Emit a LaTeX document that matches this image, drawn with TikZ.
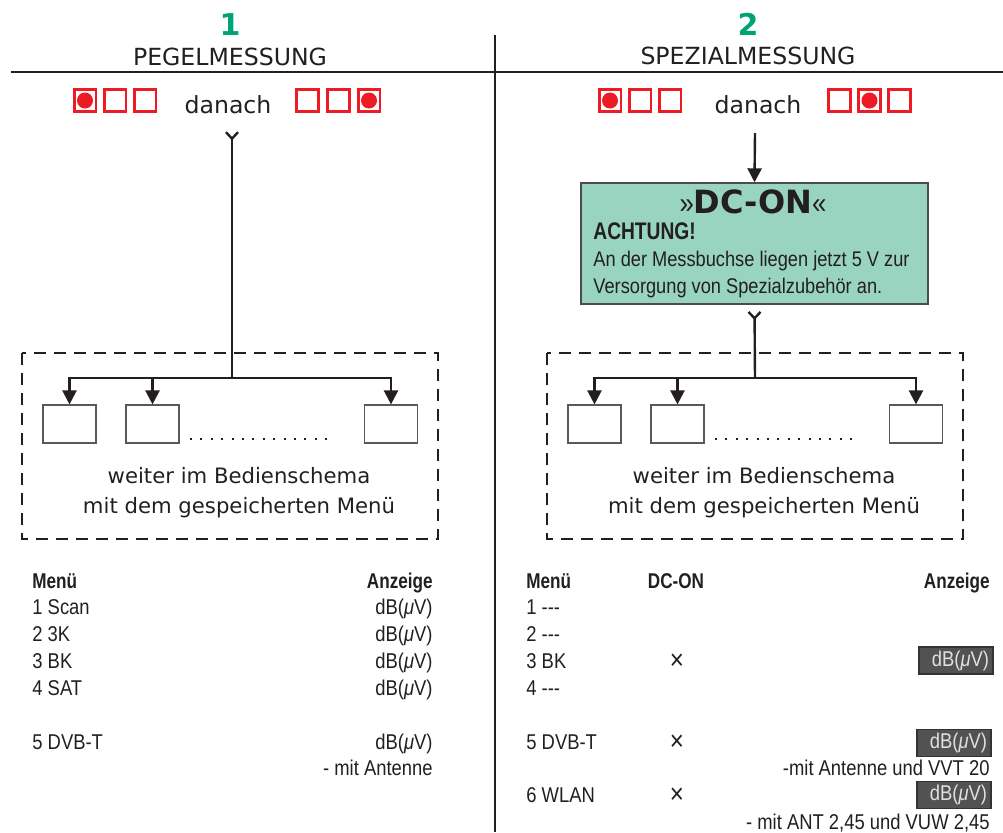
\documentclass[tikz,border=0pt]{standalone}
\usepackage{fontspec}
\setmainfont{DejaVu Sans}
\newfontfamily\condfont[FakeStretch=0.86,BoldFeatures={FakeStretch=0.8}]{Liberation Sans}
\usetikzlibrary{arrows.meta, positioning}
\definecolor{ledred}{RGB}{237,28,36}
\definecolor{numgreen}{RGB}{0,163,116}
\definecolor{dcteal}{RGB}{153,212,192}
\definecolor{inkgray}{RGB}{35,31,32}
\definecolor{dispgray}{RGB}{82,82,82}
\tikzset{
    sq/.style={draw=ledred, line width=1.3pt, minimum size=10.8pt, inner sep=0pt},
    leddot/.style={fill=ledred, circle, minimum size=8pt, inner sep=0pt},
    conn/.style={draw=inkgray, line width=1.2pt},
    arr/.style={conn, -{Triangle[length=7pt,width=7pt]}},
    tailconn/.style={conn, {Straight Barb[reversed,length=3.2pt,width=6pt]}-},
    menubox/.style={draw=black!65, line width=0.6pt, minimum width=26.5pt, minimum height=19pt, inner sep=0pt},
    dasharea/.style={draw=inkgray, line width=1.3pt, dash pattern=on 6pt off 4pt},
    titletext/.style={font=\fontsize{11.8}{14}\selectfont, text=inkgray, inner sep=0pt},
    numtext/.style={font=\bfseries\fontsize{15}{18}\selectfont, text=numgreen, inner sep=0pt},
    menucell/.style={font=\condfont\fontsize{10.7}{12}\selectfont, text=inkgray, inner sep=0pt},
    menuhead/.style={font=\condfont\bfseries\fontsize{10.7}{12}\selectfont, text=inkgray, inner sep=0pt},
    dispbox/.style={fill=dispgray, draw=black!80, line width=0.6pt, text=white!88!black,
        font=\condfont\fontsize{10.7}{12}\selectfont, text width=33pt, align=right,
        minimum height=13.5pt, inner xsep=2pt, inner ysep=0pt},
    dcbox/.style={fill=dcteal, draw=black!70, line width=0.7pt, minimum width=173.5pt, minimum height=60.5pt, inner sep=0pt}
}
\begin{document}
\begin{tikzpicture}[x=0.5pt, y=-0.5pt]
    \useasboundingbox (0,0) rectangle (1003,832);
    % frame lines
    \draw[inkgray, line width=1.1pt] (11,72) -- (1003,72);
    \draw[inkgray, line width=1.1pt] (495,35) -- (495,832);
    % headings
    \node[numtext, anchor=base] (num1) at (230,35) {1};
    \node[titletext, anchor=base] (ttl1) at (230,65) {PEGELMESSUNG};
    \node[numtext, anchor=base] (num2) at (748,35) {2};
    \node[titletext, anchor=base] (ttl2) at (748,64) {SPEZIALMESSUNG};
    % led states
    \foreach \x [count=\i] in {85,115,145,307.5,338.5,369}
        \node[sq] (lsq\i) at (\x,100.5) {};
    \node[leddot] (ldot1) at (lsq1.center) {};
    \node[leddot] (ldot2) at (lsq6.center) {};
    \node[titletext, anchor=base] (dan1) at (228,113) {danach};
    \foreach \x [count=\i] in {610,640,670,839.5,869.5,899.5}
        \node[sq] (rsq\i) at (\x,100.5) {};
    \node[leddot] (rdot1) at (rsq1.center) {};
    \node[leddot] (rdot2) at (rsq5.center) {};
    \node[titletext, anchor=base] (dan2) at (758,113) {danach};
    % left branch
    \coordinate (ltop) at (232,131);
    \coordinate (lbr) at (232,378);
    \draw[dasharea] (22,353) rectangle (438,539);
    \node[menubox] (lb1) at (69.5,424) {};
    \node[menubox] (lb2) at (152.5,424) {};
    \node[menubox] (lb3) at (391,424) {};
    \draw[tailconn] (ltop) -- (lbr);
    \foreach \i in {1,2,3}
        \draw[arr] (lbr) -| (lb\i.north);
    \draw[inkgray, line width=1pt, dash pattern=on 1pt off 4.2pt] (190,439) -- (334,439);
    \node[titletext, font=\fontsize{10.6}{15}\selectfont, align=center] (lnext) at (239,493)
        {weiter im Bedienschema\\mit dem gespeicherten Menü};
    % right branch
    \coordinate (rtop) at (755,133);
    \coordinate (rbr) at (755,378);
    \node[dcbox] (dc) at (754.5,243.5) {};
    \node[font=\bfseries\fontsize{16}{18}\selectfont, text=inkgray, anchor=base, inner sep=0pt] (dctitle) at (753,213)
        {{\condfont\mdseries\fontsize{15}{18}\selectfont »}DC-ON{\condfont\mdseries\fontsize{15}{18}\selectfont «}};
    \node[font=\condfont\bfseries\fontsize{12}{14}\selectfont, text=inkgray, anchor=base west, inner sep=0pt] (dcwarn) at (593,239.5) {ACHTUNG!};
    \node[menucell, font=\condfont\fontsize{10.6}{13.5}\selectfont, align=left, anchor=west] (dcbody) at (593,274.5)
        {An der Messbuchse liegen jetzt 5 V zur\\Versorgung von Spezialzubehör an.};
    \draw[arr] (rtop) -- (dc.north);
    \draw[dasharea] (547,353) rectangle (963,539);
    \node[menubox] (rb1) at (594.5,424) {};
    \node[menubox] (rb2) at (677.5,424) {};
    \node[menubox] (rb3) at (916,424) {};
    \draw[tailconn, shorten <=3pt] (dc.south) -- (rbr);
    \foreach \i in {1,2,3}
        \draw[arr] (rbr) -| (rb\i.north);
    \draw[inkgray, line width=1pt, dash pattern=on 1pt off 4.2pt] (715,439) -- (859,439);
    \node[titletext, font=\fontsize{10.6}{15}\selectfont, align=center] (rnext) at (764,493)
        {weiter im Bedienschema\\mit dem gespeicherten Menü};
    % left table
    \node[menuhead, anchor=base west] (lmenu) at (32,588.5) {Menü};
    \node[menuhead, anchor=base east] (lanz) at (433,588.5) {Anzeige};
    \foreach \y/\t [count=\i] in {614.5/1 Scan, 641.5/2 3K, 668.5/3 BK, 695.5/4 SAT, 749.5/5 DVB-T}
    {
        \node[menucell, anchor=base west] (lrow\i) at (32,\y) {\t};
        \node[menucell, anchor=base east] (lval\i) at (433,\y) {dB(\textit{μ}V)};
    }
    \node[menucell, anchor=base east] (lnote) at (433,775.5) {- mit Antenne};
    % right table
    \node[menuhead, anchor=base west] (rmenu) at (526,588.5) {Menü};
    \node[menuhead, anchor=base] (rdc) at (676,588.5) {DC-ON};
    \node[menuhead, anchor=base east] (ranz) at (990,588.5) {Anzeige};
    \foreach \y/\t [count=\i] in {614.5/1 ---, 641.5/2 ---, 668.5/3 BK, 695.5/4 ---, 749.5/5 DVB-T, 802.5/6 WLAN}
        \node[menucell, anchor=base west] (rrow\i) at (526,\y) {\t};
    \foreach \y [count=\i] in {662, 743, 796}
        \node[menucell, font=\condfont\fontsize{14}{14}\selectfont] (rx\i) at (677,\y) {×};
    \node[dispbox] (rval1) at (956,660.5) {dB(\textit{μ}V)};
    \node[dispbox] (rval2) at (954,743) {dB(\textit{μ}V)};
    \node[dispbox] (rval3) at (954,795) {dB(\textit{μ}V)};
    \node[menucell, anchor=base east] (rnote1) at (990,775.5) {-mit Antenne und VVT 20};
    \node[menucell, anchor=base east] (rnote2) at (990,829.5) {- mit ANT 2,45 und VUW 2,45};
\end{tikzpicture}
\end{document}
